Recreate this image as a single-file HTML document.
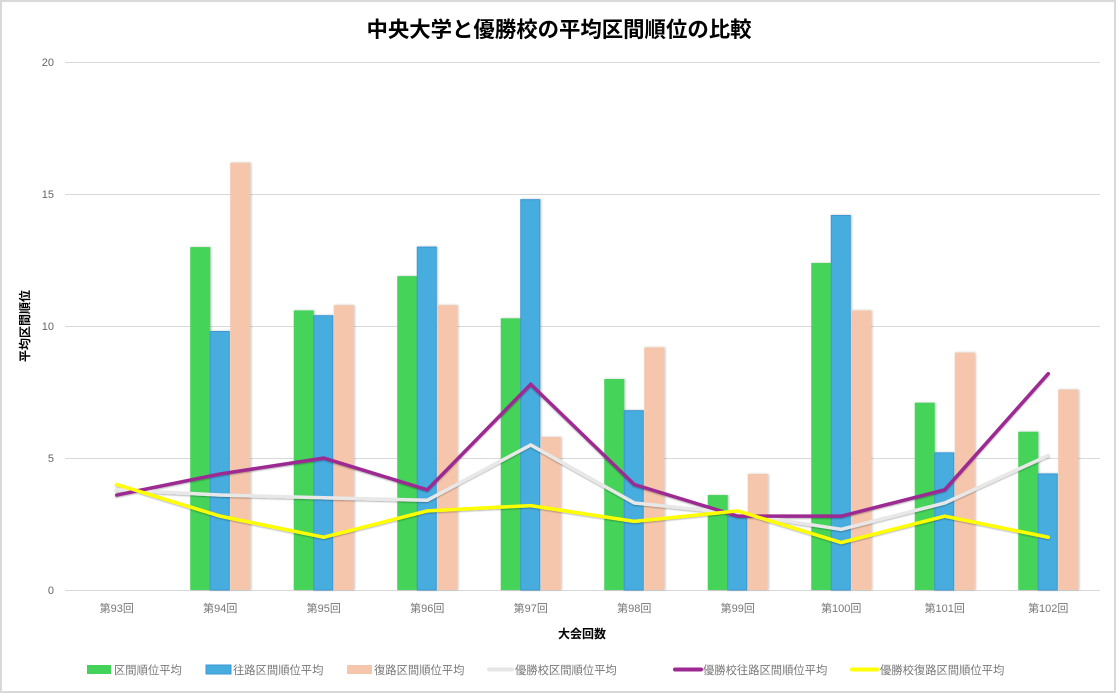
<!DOCTYPE html>
<html>
<head>
<meta charset="utf-8">
<style>
html,body{margin:0;padding:0;background:#fff;}
svg{display:block;}
text{font-family:"Liberation Sans","Noto Sans CJK JP",sans-serif;}
</style>
</head>
<body>
<svg width="1116" height="693" viewBox="0 0 1116 693" xmlns="http://www.w3.org/2000/svg">
<defs>
<filter id="sh" x="-20%" y="-5%" width="140%" height="110%">
<feDropShadow dx="1" dy="0" stdDeviation="1" flood-color="#000" flood-opacity="0.25"/>
</filter>
<filter id="lsh" x="-5%" y="-20%" width="110%" height="140%">
<feDropShadow dx="0" dy="1" stdDeviation="0.8" flood-color="#000" flood-opacity="0.3"/>
</filter>
</defs>
<rect x="1" y="1" width="1114" height="691" fill="#fff" stroke="#d9d9d9" stroke-width="2"/>

<text x="559" y="37" text-anchor="middle" font-size="21.4" font-weight="bold" fill="#000">中央大学と優勝校の平均区間順位の比較</text>

<!-- gridlines -->
<g stroke="#d9d9d9" stroke-width="1">
<line x1="65" y1="62.5" x2="1100" y2="62.5"/>
<line x1="65" y1="194.5" x2="1100" y2="194.5"/>
<line x1="65" y1="326.5" x2="1100" y2="326.5"/>
<line x1="65" y1="458.5" x2="1100" y2="458.5"/>
<line x1="65" y1="590.5" x2="1100" y2="590.5"/>
</g>
<g font-size="11" fill="#666" text-anchor="end">
<text x="54" y="66">20</text>
<text x="54" y="198">15</text>
<text x="54" y="330">10</text>
<text x="54" y="462">5</text>
<text x="54" y="594">0</text>
</g>
<text transform="translate(29,326) rotate(-90)" text-anchor="middle" font-size="12" font-weight="bold" fill="#000">平均区間順位</text>

<!-- bars -->
<g filter="url(#sh)">
<rect x="190.25" y="247.1" width="20" height="342.9" fill="#44d35a"/>
<rect x="210.25" y="331.5" width="19" height="258.5" fill="#47addf" stroke="#3b98d4" stroke-width="1"/>
<rect x="230.25" y="162.7" width="20" height="427.3" fill="#f5c6ab"/>
<rect x="293.75" y="310.4" width="20" height="279.6" fill="#44d35a"/>
<rect x="313.75" y="315.7" width="19" height="274.3" fill="#47addf" stroke="#3b98d4" stroke-width="1"/>
<rect x="333.75" y="305.15" width="20" height="284.85" fill="#f5c6ab"/>
<rect x="397.25" y="276.1" width="20" height="313.9" fill="#44d35a"/>
<rect x="417.25" y="247.1" width="19" height="342.9" fill="#47addf" stroke="#3b98d4" stroke-width="1"/>
<rect x="437.25" y="305.15" width="20" height="284.85" fill="#f5c6ab"/>
<rect x="500.75" y="318.3" width="20" height="271.7" fill="#44d35a"/>
<rect x="520.75" y="199.65" width="19" height="390.35" fill="#47addf" stroke="#3b98d4" stroke-width="1"/>
<rect x="540.75" y="437" width="20" height="153" fill="#f5c6ab"/>
<rect x="604.25" y="379" width="20" height="211" fill="#44d35a"/>
<rect x="624.25" y="410.65" width="19" height="179.35" fill="#47addf" stroke="#3b98d4" stroke-width="1"/>
<rect x="644.25" y="347.35" width="20" height="242.65" fill="#f5c6ab"/>
<rect x="707.75" y="495.05" width="20" height="94.95" fill="#44d35a"/>
<rect x="727.75" y="516.15" width="19" height="73.85" fill="#47addf" stroke="#3b98d4" stroke-width="1"/>
<rect x="747.75" y="473.95" width="20" height="116.05" fill="#f5c6ab"/>
<rect x="811.25" y="262.95" width="20" height="327.05" fill="#44d35a"/>
<rect x="831.25" y="215.5" width="19" height="374.5" fill="#47addf" stroke="#3b98d4" stroke-width="1"/>
<rect x="851.25" y="310.4" width="20" height="279.6" fill="#f5c6ab"/>
<rect x="914.75" y="402.7" width="20" height="187.3" fill="#44d35a"/>
<rect x="934.75" y="452.85" width="19" height="137.15" fill="#47addf" stroke="#3b98d4" stroke-width="1"/>
<rect x="954.75" y="352.6" width="20" height="237.4" fill="#f5c6ab"/>
<rect x="1018.25" y="431.75" width="20" height="158.25" fill="#44d35a"/>
<rect x="1038.25" y="473.95" width="19" height="116.05" fill="#47addf" stroke="#3b98d4" stroke-width="1"/>
<rect x="1058.25" y="389.55" width="20" height="200.45" fill="#f5c6ab"/>
</g>

<!-- lines -->
<g fill="none" stroke-width="3.5" stroke-linejoin="miter" stroke-linecap="round" filter="url(#lsh)">
<polyline stroke="#e8e8e8" points="116.75,489.8 220.25,495.05 323.75,497.7 427.25,500.3 530.75,444.95 634.25,502.95 737.75,513.5 841.25,529.3 944.75,502.95 1048.25,455.5"/>
<polyline stroke="#9c2a92" points="116.75,495.05 220.25,473.95 323.75,458.1 427.25,489.8 530.75,384.3 634.25,484.5 737.75,516.15 841.25,516.15 944.75,489.8 1048.25,373.7"/>
<polyline stroke="#ffff00" points="116.75,484.5 220.25,516.15 323.75,537.25 427.25,510.9 530.75,505.6 634.25,521.4 737.75,510.9 841.25,542.5 944.75,516.15 1048.25,537.25"/>
</g>

<!-- x labels -->
<g font-size="11" fill="#777" text-anchor="middle">
<text x="116.75" y="612">第93回</text>
<text x="220.25" y="612">第94回</text>
<text x="323.75" y="612">第95回</text>
<text x="427.25" y="612">第96回</text>
<text x="530.75" y="612">第97回</text>
<text x="634.25" y="612">第98回</text>
<text x="737.75" y="612">第99回</text>
<text x="841.25" y="612">第100回</text>
<text x="944.75" y="612">第101回</text>
<text x="1048.25" y="612">第102回</text>
</g>
<text x="582" y="638" text-anchor="middle" font-size="12" font-weight="bold" fill="#000">大会回数</text>

<!-- legend -->
<g font-size="11.3" fill="#777">
<rect x="87" y="665" width="24" height="9" fill="#44d35a"/>
<text x="114" y="674">区間順位平均</text>
<rect x="206" y="665" width="25" height="9" fill="#47addf" stroke="#3b98d4" stroke-width="1"/>
<text x="233" y="674">往路区間順位平均</text>
<rect x="347" y="665" width="25" height="9" fill="#f5c6ab"/>
<text x="374" y="674">復路区間順位平均</text>
<line x1="489" y1="669.5" x2="512" y2="669.5" stroke="#e6e6e6" stroke-width="4" stroke-linecap="round"/>
<text x="515" y="674">優勝校区間順位平均</text>
<line x1="675" y1="669.5" x2="701" y2="669.5" stroke="#9c2a92" stroke-width="4" stroke-linecap="round"/>
<text x="703" y="674">優勝校往路区間順位平均</text>
<line x1="852" y1="669.5" x2="877" y2="669.5" stroke="#ffff00" stroke-width="4" stroke-linecap="round"/>
<text x="880" y="674">優勝校復路区間順位平均</text>
</g>
</svg>
</body>
</html>
